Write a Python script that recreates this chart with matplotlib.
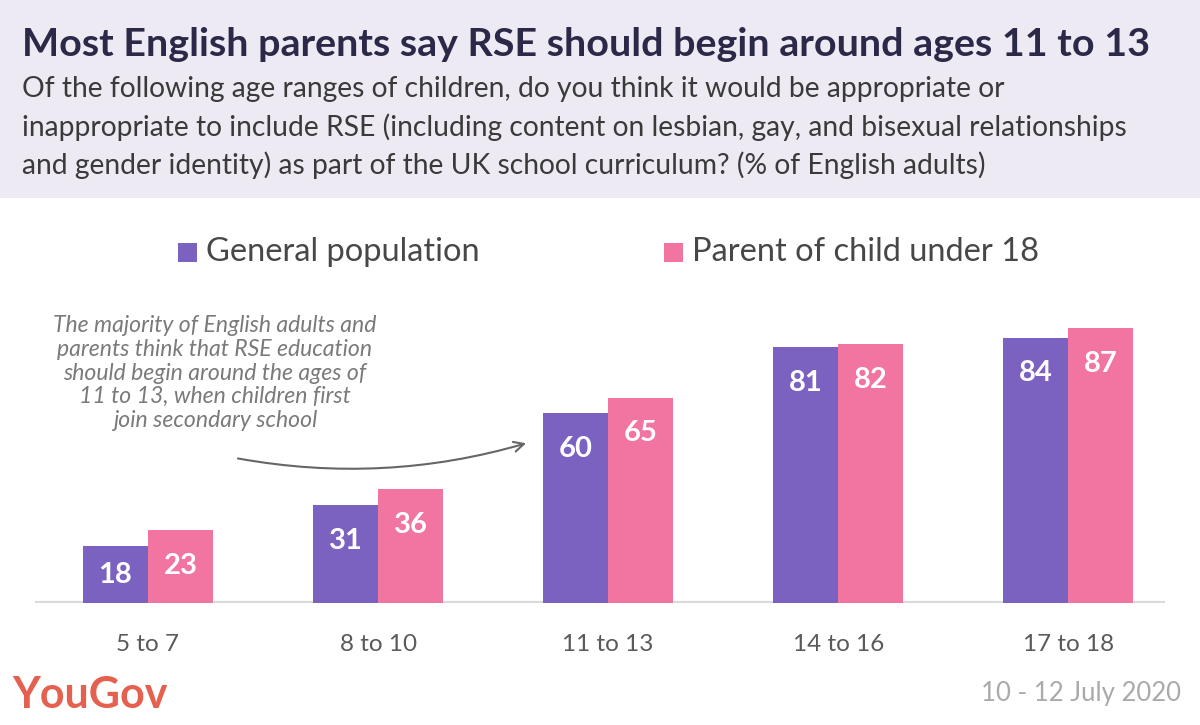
import matplotlib.pyplot as plt
from matplotlib.patches import Rectangle, FancyArrowPatch
import numpy as np

plt.rcParams['font.family'] = ['Lato', 'DejaVu Sans']

ages = ['5 to 7', '8 to 10', '11 to 13', '14 to 16', '17 to 18']
general = [18, 31, 60, 81, 84]
parents = [23, 36, 65, 82, 87]
series_names = ['General population', 'Parent of child under 18']

purple = '#7B62C0'
pink = '#F274A0'

W, H = 1200, 725
fig = plt.figure(figsize=(12, 7.25), dpi=100)
fig.patch.set_facecolor('white')

def fx(px):
    return px / W

def fy(py):
    return 1 - py / H

# header band
fig.patches.append(Rectangle((0, fy(198)), 1, 1 - fy(198), transform=fig.transFigure,
                             facecolor='#EDEAF4', edgecolor='none', zorder=0))
fig.text(fx(22), fy(44), 'Most English parents say RSE should begin around ages 11 to 13',
         fontsize=28.4, fontweight='bold', color='#2B2848', va='center', ha='left')
sub = ['Of the following age ranges of children, do you think it would be appropriate or',
       'inappropriate to include RSE (including content on lesbian, gay, and bisexual relationships',
       'and gender identity) as part of the UK school curriculum? (% of English adults)']
for i, line in enumerate(sub):
    fig.text(fx(22), fy(89 + i * 38), line, fontsize=20.3,
             color='#3A3A3A', va='center', ha='left')

# legend
for sx, name, c in [(178, series_names[0], purple), (664, series_names[1], pink)]:
    fig.patches.append(Rectangle((fx(sx), fy(262)), fx(19), 19 / H, transform=fig.transFigure,
                                 facecolor=c, edgecolor='none'))
    fig.text(fx(sx + 28), fy(252), name, fontsize=23.5,
             color='#474747', va='center', ha='left')

ax = fig.add_axes([fx(35), fy(603), fx(1165) - fx(35), 316 / H])
ax.set_facecolor('none')
x = np.arange(len(ages))
w = 0.283
ax.bar(x - w / 2, general, w, color=purple)
ax.bar(x + w / 2, parents, w, color=pink)
for xs, vals in [(x - w / 2, general), (x + w / 2, parents)]:
    for xi, v in zip(xs, vals):
        ax.text(xi, max(v - 11.3, v / 2), str(v), ha='center', va='center',
                color='white', fontsize=21, fontweight='bold')
ax.axhline(0, color='#DADADA', lw=3, zorder=0)
ax.set_xlim(-0.491, 4.42)
ax.set_ylim(0, 100)
ax.set_xticks(x)
ax.set_xticklabels(ages, fontsize=17.5, color='#5A5A5A')
ax.tick_params(axis='x', length=0, pad=22)
ax.set_yticks([])
for s in ax.spines.values():
    s.set_visible(False)

# annotation
note = ('The majority of English adults and\nparents think that RSE education\n'
        'should begin around the ages of\n11 to 13, when children first\njoin secondary school')
fig.text(fx(215), fy(373), note, fontsize=16.6, style='italic',
         color='#7A7A7A', ha='center', va='center', linespacing=1.16)
arr = FancyArrowPatch((0.379, 45.9), (1.655, 50.8), arrowstyle='->', mutation_scale=18,
                      connectionstyle='arc3,rad=0.12', color='#666666', lw=1.5)
ax.add_patch(arr)

# footer
fig.text(fx(12), fy(695), 'YouGov', fontsize=31, fontweight='bold', color='#E5604F',
         va='center', ha='left')
fig.text(fx(1181), fy(693), '10 - 12 July 2020', fontsize=18.5,
         color='#AAAAAA', va='center', ha='right')

fig.savefig('out.png', dpi=100)
